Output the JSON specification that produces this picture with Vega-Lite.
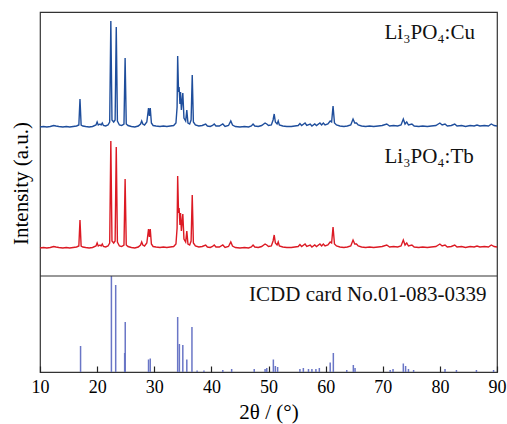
{
"$schema": "https://vega.github.io/schema/vega-lite/v6.json",
"width": 457, "height": 360,
"autosize": {"type": "none"},
"padding": {"left": 40, "top": 12, "right": 10, "bottom": 52},
"background": "white",
"config": {"view": {"stroke": "#333333", "strokeWidth": 1.2}, "font": "Liberation Serif"},
"datasets": {
"cu": [
{"x":10.0,"y":245},{"x":10.6,"y":245.5},{"x":11.2,"y":245},{"x":11.8,"y":245.5},{"x":12.4,"y":246.5},{"x":12.8,"y":246},{"x":13.3,"y":245.5},{"x":14,"y":245},{"x":14.6,"y":245.5},{"x":15.2,"y":245},{"x":15.8,"y":245.5},{"x":16.4,"y":246},{"x":16.8,"y":247},{"x":17.0,"y":273},{"x":17.2,"y":247},{"x":17.5,"y":246},{"x":18,"y":245.5},{"x":18.6,"y":245},{"x":19.2,"y":245.5},{"x":19.8,"y":247},{"x":20.0,"y":250},{"x":20.2,"y":247},{"x":20.5,"y":248},{"x":20.7,"y":247},{"x":20.9,"y":249},{"x":21.1,"y":246.5},{"x":21.5,"y":246},{"x":21.9,"y":247},{"x":22.2,"y":250},{"x":22.4,"y":351},{"x":22.6,"y":252},{"x":22.9,"y":250},{"x":23.15,"y":252},{"x":23.35,"y":345},{"x":23.55,"y":251},{"x":23.9,"y":247},{"x":24.3,"y":246.5},{"x":24.7,"y":248},{"x":24.9,"y":314},{"x":25.1,"y":248},{"x":25.4,"y":246.5},{"x":26,"y":245.5},{"x":26.6,"y":245},{"x":27.2,"y":246},{"x":27.6,"y":248},{"x":27.8,"y":251},{"x":28.0,"y":248},{"x":28.3,"y":247},{"x":28.7,"y":250},{"x":29.0,"y":264},{"x":29.15,"y":256},{"x":29.3,"y":264},{"x":29.5,"y":249},{"x":29.8,"y":246.5},{"x":30.3,"y":246},{"x":31,"y":245.5},{"x":31.6,"y":246},{"x":32.2,"y":245.5},{"x":32.8,"y":246},{"x":33.4,"y":246.5},{"x":33.8,"y":249},{"x":34.0,"y":265},{"x":34.1,"y":316},{"x":34.25,"y":280},{"x":34.35,"y":285},{"x":34.5,"y":268},{"x":34.6,"y":280},{"x":34.75,"y":262},{"x":35.0,"y":279},{"x":35.2,"y":254},{"x":35.5,"y":251},{"x":35.7,"y":262},{"x":35.9,"y":249},{"x":36.2,"y":248},{"x":36.45,"y":252},{"x":36.65,"y":297},{"x":36.85,"y":250},{"x":37.2,"y":247},{"x":37.8,"y":246},{"x":38.4,"y":246.5},{"x":39.0,"y":248},{"x":39.3,"y":246},{"x":39.8,"y":245.5},{"x":40.2,"y":246.5},{"x":40.5,"y":248},{"x":40.8,"y":246},{"x":41.4,"y":246},{"x":42.0,"y":248},{"x":42.4,"y":245.5},{"x":43.0,"y":246.5},{"x":43.4,"y":251},{"x":43.7,"y":247},{"x":44.2,"y":245.5},{"x":45,"y":245},{"x":45.8,"y":245.5},{"x":46.5,"y":245},{"x":47.0,"y":246},{"x":47.3,"y":248},{"x":47.6,"y":246},{"x":48.2,"y":245.5},{"x":48.8,"y":246.5},{"x":49.4,"y":249},{"x":49.7,"y":248},{"x":50.0,"y":246.5},{"x":50.5,"y":247},{"x":50.8,"y":252},{"x":51.0,"y":258},{"x":51.2,"y":250},{"x":51.5,"y":248},{"x":51.7,"y":251},{"x":51.9,"y":247},{"x":52.5,"y":246},{"x":53.2,"y":245.5},{"x":54,"y":245.5},{"x":54.6,"y":246},{"x":55.2,"y":246.5},{"x":55.5,"y":248.5},{"x":55.8,"y":246.5},{"x":56.4,"y":249},{"x":56.7,"y":246.5},{"x":57.3,"y":248},{"x":57.6,"y":246},{"x":58.1,"y":248},{"x":58.4,"y":246.5},{"x":59.0,"y":249},{"x":59.3,"y":247},{"x":59.6,"y":249},{"x":59.9,"y":247},{"x":60.4,"y":248},{"x":60.8,"y":251},{"x":61.05,"y":250},{"x":61.3,"y":266},{"x":61.55,"y":249},{"x":61.9,"y":247},{"x":62.5,"y":246},{"x":63.2,"y":245.5},{"x":63.8,"y":246},{"x":64.4,"y":247},{"x":64.8,"y":253},{"x":65.1,"y":249},{"x":65.4,"y":249},{"x":65.7,"y":247},{"x":66.3,"y":246},{"x":67,"y":245.5},{"x":67.7,"y":246},{"x":68.4,"y":245.5},{"x":69.2,"y":246},{"x":69.9,"y":246.5},{"x":70.7,"y":248},{"x":71.2,"y":246},{"x":71.9,"y":246.5},{"x":72.6,"y":246},{"x":73.2,"y":247},{"x":73.6,"y":253},{"x":73.9,"y":248},{"x":74.2,"y":250},{"x":74.5,"y":247},{"x":75.1,"y":248},{"x":75.5,"y":246},{"x":76.3,"y":245.5},{"x":77,"y":246},{"x":77.8,"y":245.5},{"x":78.5,"y":246},{"x":79.3,"y":246.5},{"x":80.0,"y":249},{"x":80.4,"y":247},{"x":80.9,"y":248},{"x":81.3,"y":246},{"x":82,"y":246.5},{"x":82.6,"y":248},{"x":83,"y":246},{"x":83.8,"y":246.5},{"x":84.5,"y":245.5},{"x":85.3,"y":246.5},{"x":86,"y":246},{"x":86.5,"y":247},{"x":87,"y":246},{"x":87.8,"y":246.5},{"x":88.5,"y":246},{"x":89.0,"y":248},{"x":89.5,"y":246.5},{"x":90,"y":246}
],
"tb": [
{"x":10.0,"y":124},{"x":10.6,"y":124.5},{"x":11.2,"y":124},{"x":11.8,"y":124.5},{"x":12.4,"y":125.5},{"x":12.8,"y":125},{"x":13.3,"y":124.5},{"x":14,"y":124},{"x":14.6,"y":124.5},{"x":15.2,"y":124},{"x":15.8,"y":124.5},{"x":16.4,"y":125},{"x":16.8,"y":126},{"x":17.0,"y":152},{"x":17.2,"y":126},{"x":17.5,"y":125},{"x":18,"y":124.5},{"x":18.6,"y":124},{"x":19.2,"y":124.5},{"x":19.8,"y":126},{"x":20.0,"y":129},{"x":20.2,"y":126},{"x":20.5,"y":127},{"x":20.7,"y":126},{"x":20.9,"y":128},{"x":21.1,"y":125.5},{"x":21.5,"y":125},{"x":21.9,"y":126},{"x":22.2,"y":129},{"x":22.4,"y":231},{"x":22.6,"y":131},{"x":22.9,"y":129},{"x":23.15,"y":131},{"x":23.35,"y":225},{"x":23.55,"y":130},{"x":23.9,"y":126},{"x":24.3,"y":125.5},{"x":24.7,"y":127},{"x":24.9,"y":193},{"x":25.1,"y":127},{"x":25.4,"y":125.5},{"x":26,"y":124.5},{"x":26.6,"y":124},{"x":27.2,"y":125},{"x":27.6,"y":127},{"x":27.8,"y":130},{"x":28.0,"y":127},{"x":28.3,"y":126},{"x":28.7,"y":129},{"x":29.0,"y":143},{"x":29.15,"y":135},{"x":29.3,"y":143},{"x":29.5,"y":128},{"x":29.8,"y":125.5},{"x":30.3,"y":125},{"x":31,"y":124.5},{"x":31.6,"y":125},{"x":32.2,"y":124.5},{"x":32.8,"y":125},{"x":33.4,"y":125.5},{"x":33.8,"y":128},{"x":34.0,"y":144},{"x":34.1,"y":196},{"x":34.25,"y":159},{"x":34.35,"y":164},{"x":34.5,"y":147},{"x":34.6,"y":159},{"x":34.75,"y":141},{"x":35.0,"y":158},{"x":35.2,"y":133},{"x":35.5,"y":130},{"x":35.7,"y":141},{"x":35.9,"y":128},{"x":36.2,"y":127},{"x":36.45,"y":131},{"x":36.65,"y":177},{"x":36.85,"y":129},{"x":37.2,"y":126},{"x":37.8,"y":125},{"x":38.4,"y":125.5},{"x":39.0,"y":127},{"x":39.3,"y":125},{"x":39.8,"y":124.5},{"x":40.2,"y":125.5},{"x":40.5,"y":127},{"x":40.8,"y":125},{"x":41.4,"y":125},{"x":42.0,"y":127},{"x":42.4,"y":124.5},{"x":43.0,"y":125.5},{"x":43.4,"y":130},{"x":43.7,"y":126},{"x":44.2,"y":124.5},{"x":45,"y":124},{"x":45.8,"y":124.5},{"x":46.5,"y":124},{"x":47.0,"y":125},{"x":47.3,"y":127},{"x":47.6,"y":125},{"x":48.2,"y":124.5},{"x":48.8,"y":125.5},{"x":49.4,"y":128},{"x":49.7,"y":127},{"x":50.0,"y":125.5},{"x":50.5,"y":126},{"x":50.8,"y":131},{"x":51.0,"y":137},{"x":51.2,"y":129},{"x":51.5,"y":127},{"x":51.7,"y":130},{"x":51.9,"y":126},{"x":52.5,"y":125},{"x":53.2,"y":124.5},{"x":54,"y":124.5},{"x":54.6,"y":125},{"x":55.2,"y":125.5},{"x":55.5,"y":127.5},{"x":55.8,"y":125.5},{"x":56.4,"y":128},{"x":56.7,"y":125.5},{"x":57.3,"y":127},{"x":57.6,"y":125},{"x":58.1,"y":127},{"x":58.4,"y":125.5},{"x":59.0,"y":128},{"x":59.3,"y":126},{"x":59.6,"y":128},{"x":59.9,"y":126},{"x":60.4,"y":127},{"x":60.8,"y":130},{"x":61.05,"y":129},{"x":61.3,"y":145},{"x":61.55,"y":128},{"x":61.9,"y":126},{"x":62.5,"y":125},{"x":63.2,"y":124.5},{"x":63.8,"y":125},{"x":64.4,"y":126},{"x":64.8,"y":132},{"x":65.1,"y":128},{"x":65.4,"y":128},{"x":65.7,"y":126},{"x":66.3,"y":125},{"x":67,"y":124.5},{"x":67.7,"y":125},{"x":68.4,"y":124.5},{"x":69.2,"y":125},{"x":69.9,"y":125.5},{"x":70.7,"y":127},{"x":71.2,"y":125},{"x":71.9,"y":125.5},{"x":72.6,"y":125},{"x":73.2,"y":126},{"x":73.6,"y":132},{"x":73.9,"y":127},{"x":74.2,"y":129},{"x":74.5,"y":126},{"x":75.1,"y":127},{"x":75.5,"y":125},{"x":76.3,"y":124.5},{"x":77,"y":125},{"x":77.8,"y":124.5},{"x":78.5,"y":125},{"x":79.3,"y":125.5},{"x":80.0,"y":128},{"x":80.4,"y":126},{"x":80.9,"y":127},{"x":81.3,"y":125},{"x":82,"y":125.5},{"x":82.6,"y":127},{"x":83,"y":125},{"x":83.8,"y":125.5},{"x":84.5,"y":124.5},{"x":85.3,"y":125.5},{"x":86,"y":125},{"x":86.5,"y":126},{"x":87,"y":125},{"x":87.8,"y":125.5},{"x":88.5,"y":125},{"x":89.0,"y":127},{"x":89.5,"y":125.5},{"x":90,"y":125}
],
"sticks": [
{"x":17.1,"h":26},{"x":22.5,"h":96},{"x":23.25,"h":87},{"x":24.82,"h":19},{"x":24.92,"h":50},{"x":29.0,"h":12.5},{"x":29.3,"h":13.5},{"x":34.1,"h":55},{"x":34.4,"h":28},{"x":35.0,"h":27},{"x":35.7,"h":12.5},{"x":36.6,"h":45},{"x":37.5,"h":1.5},{"x":38.7,"h":1.5},{"x":42.0,"h":2},{"x":43.55,"h":3},{"x":47.5,"h":3},{"x":49.4,"h":3},{"x":49.7,"h":4},{"x":50.85,"h":12.5},{"x":51.2,"h":6},{"x":51.6,"h":5},{"x":55.5,"h":3},{"x":56.1,"h":4},{"x":57.0,"h":3},{"x":57.6,"h":3},{"x":58.3,"h":3},{"x":58.9,"h":4},{"x":60.8,"h":9.5},{"x":61.35,"h":19},{"x":63.7,"h":2},{"x":64.85,"h":7},{"x":65.15,"h":4},{"x":71.3,"h":2},{"x":71.8,"h":3},{"x":73.6,"h":8.5},{"x":74.0,"h":6},{"x":74.5,"h":3},{"x":75.4,"h":2},{"x":80.9,"h":3},{"x":82.9,"h":2},{"x":86.4,"h":2},{"x":89.4,"h":2}
],
"labels": [
{"x":70.3,"y":333.5,"t":"Li₃PO₄:Cu"},{"x":70.3,"y":209.5,"t":"Li₃PO₄:Tb"},{"x":46.6,"y":71.5,"t":"ICDD card No.01-083-0339"}
],
"divider": [{"d":96}]
},
"layer": [
{"data": {"name": "sticks"},
 "mark": {"type": "rule", "color": "#6a76c6", "strokeWidth": 1.5},
 "encoding": {
  "x": {"field": "x", "type": "quantitative", "scale": {"domain": [10, 90], "nice": false},
   "axis": {"title": "2θ / (°)", "values": [10,20,30,40,50,60,70,80,90], "grid": false, "domain": false,
    "tickSize": -6, "tickColor": "#222222", "tickWidth": 1.2,
    "labelFont": "Liberation Serif", "labelFontSize": 18, "labelColor": "#000000", "labelPadding": 12, "labelFlush": false,
    "titleFont": "Liberation Serif", "titleFontSize": 21, "titleFontWeight": "normal", "titleColor": "#000000",
    "titleY": 46, "titleBaseline": "alphabetic"}},
  "y": {"field": "h", "type": "quantitative", "scale": {"domain": [0, 360], "nice": false},
   "axis": {"title": "Intensity (a.u.)", "labels": false, "ticks": false, "domain": false, "grid": false,
    "titleFont": "Liberation Serif", "titleFontSize": 21, "titleFontWeight": "normal", "titleColor": "#000000",
    "titleX": -19, "titleY": 171, "titleBaseline": "middle"}},
  "y2": {"datum": 0}
 }},
{"data": {"name": "tb"},
 "mark": {"type": "line", "color": "#dc1a24", "strokeWidth": 1.4},
 "encoding": {"x": {"field": "x", "type": "quantitative"}, "y": {"field": "y", "type": "quantitative"}}},
{"data": {"name": "cu"},
 "mark": {"type": "line", "color": "#1f4e9c", "strokeWidth": 1.4},
 "encoding": {"x": {"field": "x", "type": "quantitative"}, "y": {"field": "y", "type": "quantitative"}}},
{"data": {"name": "divider"},
 "mark": {"type": "rule", "color": "#333333", "strokeWidth": 1.2},
 "encoding": {"y": {"field": "d", "type": "quantitative"}}},
{"data": {"name": "labels"},
 "mark": {"type": "text", "align": "left", "baseline": "alphabetic", "font": "Liberation Serif", "fontSize": 21, "color": "#111111"},
 "encoding": {"x": {"field": "x", "type": "quantitative"}, "y": {"field": "y", "type": "quantitative"}, "text": {"field": "t"}}}
]
}
